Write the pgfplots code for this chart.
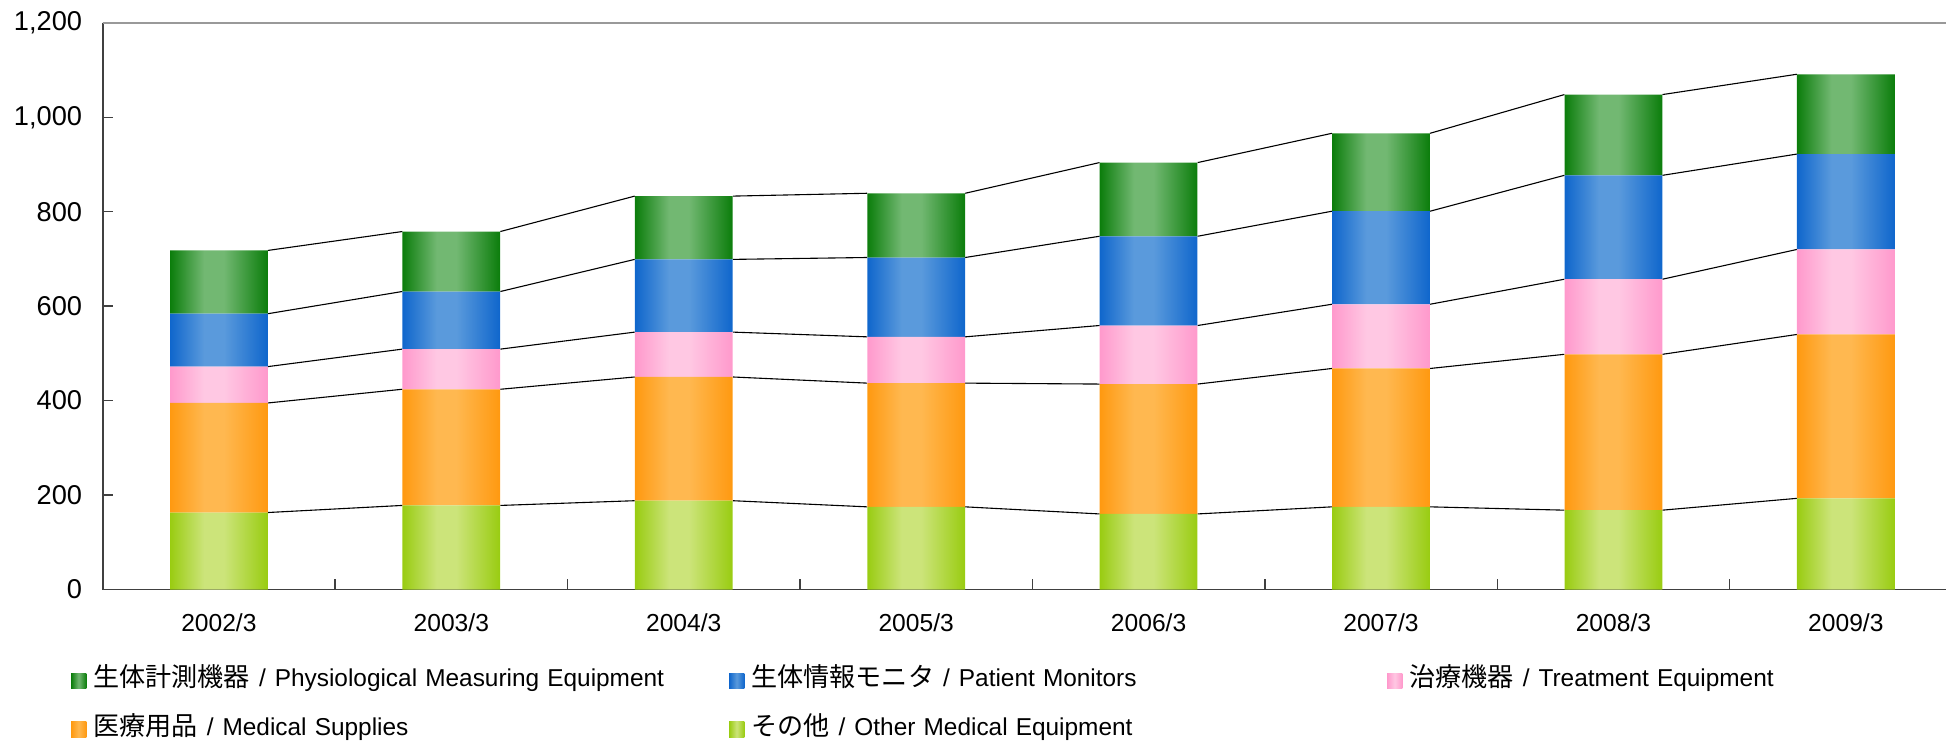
\documentclass[border=0pt]{standalone}
\usepackage{fontspec}
\setmainfont{Liberation Sans}
\newfontfamily\jp{Noto Sans CJK JP}[Scale=1.07]
\usepackage{pgfplots}
\usepackage{pgfplotstable}
\pgfplotsset{compat=1.18}

\definecolor{phD}{HTML}{0B7D0B}\definecolor{phL}{HTML}{72B872}
\definecolor{pmD}{HTML}{0F66CC}\definecolor{pmL}{HTML}{5A9ADC}
\definecolor{trD}{HTML}{FF99CC}\definecolor{trL}{HTML}{FFC8E3}
\definecolor{msD}{HTML}{FF9910}\definecolor{msL}{HTML}{FFB850}
\definecolor{otD}{HTML}{99CC11}\definecolor{otL}{HTML}{CCE47A}

% one series is one path, so the shading repeats once per bar:
% the path's box (8 bars) is mapped onto 25bp..75bp of the shading
\newcommand\barshade[3]{%
 \pgfdeclarehorizontalshading{#1}{100bp}{color(0bp)=(#2); color(25bp)=(#2);
  color(25.99bp)=(#3); color(26.56bp)=(#3); color(27.84bp)=(#2); color(31.74bp)=(#2);
  color(32.73bp)=(#3); color(33.30bp)=(#3); color(34.57bp)=(#2); color(38.48bp)=(#2);
  color(39.47bp)=(#3); color(40.04bp)=(#3); color(41.31bp)=(#2); color(45.21bp)=(#2);
  color(46.21bp)=(#3); color(46.77bp)=(#3); color(48.05bp)=(#2); color(51.95bp)=(#2);
  color(52.94bp)=(#3); color(53.51bp)=(#3); color(54.79bp)=(#2); color(58.69bp)=(#2);
  color(59.68bp)=(#3); color(60.25bp)=(#3); color(61.52bp)=(#2); color(65.43bp)=(#2);
  color(66.42bp)=(#3); color(66.99bp)=(#3); color(68.26bp)=(#2); color(72.16bp)=(#2);
  color(73.16bp)=(#3); color(73.72bp)=(#3); color(75bp)=(#2); color(100bp)=(#2)}}
\barshade{phS}{phD}{phL}
\barshade{pmS}{pmD}{pmL}
\barshade{trS}{trD}{trL}
\barshade{msS}{msD}{msL}
\barshade{otS}{otD}{otL}

% segments per category (fiscal year ending March)
\pgfplotstableread{
x oth sup tre mon phy
0 163 232  77 112 134
1 178 246  85 122 127
2 188 262  95 154 134
3 175 262  98 168 136
4 160 275 124 189 156
5 175 293 136 197 165
6 168 330 159 220 171
7 193 347 180 202 169
}\sales

% running totals, joined from the right edge of one bar to the left edge of the next
\pgfplotstableread{
x     a   b   c   d   e
0.211 163 395 472 584 718
0.789 178 424 509 631 758
0.8   nan nan nan nan nan
1.211 178 424 509 631 758
1.789 188 450 545 699 833
1.8   nan nan nan nan nan
2.211 188 450 545 699 833
2.789 175 437 535 703 839
2.8   nan nan nan nan nan
3.211 175 437 535 703 839
3.789 160 435 559 748 904
3.8   nan nan nan nan nan
4.211 160 435 559 748 904
4.789 175 468 604 801 966
4.8   nan nan nan nan nan
5.211 175 468 604 801 966
5.789 168 498 657 877 1048
5.8   nan nan nan nan nan
6.211 168 498 657 877 1048
6.789 193 540 720 922 1091
}\links

\pgfplotsset{frame/.style={scale only axis, width=921.65bp, height=283.35bp,
  xmin=-0.5, xmax=7.431, ymin=0, ymax=1200,
  at={(51.35bp,78.75bp)}, anchor=south west},
  key/.style n args={2}{legend image code/.code={\path[left color=#1, right color=#1,
    middle color=#2] (0bp,-3.9bp) rectangle (7.65bp,3.9bp);}}}
\newcommand\sep{\hspace{4.5bp}/\hspace{4.5bp}}

\begin{document}
\begin{tikzpicture}
\useasboundingbox (0,0) rectangle (973bp,373.5bp);
\begin{axis}[frame, hide axis, unbounded coords=jump]
\addplot[black, line width=0.55bp, mark=none] table[x=x,y=a]{\links};
\addplot[black, line width=0.55bp, mark=none] table[x=x,y=b]{\links};
\addplot[black, line width=0.55bp, mark=none] table[x=x,y=c]{\links};
\addplot[black, line width=0.55bp, mark=none] table[x=x,y=d]{\links};
\addplot[black, line width=0.55bp, mark=none] table[x=x,y=e]{\links};
\end{axis}
\begin{axis}[frame,
  ybar stacked, bar width=48.9bp,
  axis lines*=left, axis line style={-, black!75, line width=0.9bp},
  tick pos=left, tick align=inside,
  tick style={black!75, line width=0.7bp},
  major tick length=5bp,
  ytick={0,200,...,1200},
  yticklabel style={font=\fontsize{13.6bp}{15bp}\selectfont, xshift=-6.8bp,
    /pgf/number format/1000 sep={,}, /pgf/number format/assume math mode=true},
  xtick={0.5,1.5,...,6.5}, xticklabels={},
  extra x ticks={0,...,7},
  extra x tick labels={2002/3,2003/3,2004/3,2005/3,2006/3,2007/3,2008/3,2009/3},
  extra x tick style={major tick length=0pt},
  xticklabel style={font=\fontsize{12.3bp}{14bp}\selectfont, yshift=-8.6bp},
  legend columns=3, reverse legend, legend cell align=left,
  legend style={at={(axis description cs:-0.01736,-0.14205)}, anchor=north west,
    draw=none, fill=none, inner sep=0pt,
    font=\fontsize{12.2bp}{14bp}\selectfont,
    nodes={inner sep=0pt, text width=250bp, text height=8.3bp, text depth=2.2bp},
    /tikz/row sep=13.75bp,
    /tikz/every odd column/.style={column sep=3.5bp},
    /tikz/every even column/.style={column sep=67.85bp}},
]
\addplot[draw=none, shading=otS, key={otD}{otL}] table[x=x,y=oth]{\sales};
\addlegendentry{\mbox{{\jp その他}\sep Other Medical Equipment}}
\addplot[draw=none, shading=msS, key={msD}{msL}] table[x=x,y=sup]{\sales};
\addlegendentry{\mbox{{\jp 医療用品}\sep Medical Supplies}}
\addplot[draw=none, shading=trS, key={trD}{trL}] table[x=x,y=tre]{\sales};
\addlegendentry{\mbox{{\jp 治療機器}\sep Treatment Equipment}}
\addplot[draw=none, shading=pmS, key={pmD}{pmL}] table[x=x,y=mon]{\sales};
\addlegendentry{\mbox{{\jp 生体情報モニタ}\sep Patient Monitors}}
\addplot[draw=none, shading=phS, key={phD}{phL}] table[x=x,y=phy]{\sales};
\addlegendentry{\mbox{{\jp 生体計測機器}\sep Physiological Measuring Equipment}}
\draw[black!40, line width=1bp] (rel axis cs:0,1) -- (rel axis cs:1,1);
\draw[black!35, line width=0.8bp] (axis description cs:-0.03483,-0.2779)
  -- (axis description cs:-0.03483,-0.1138) -- (axis description cs:1,-0.1138);
\end{axis}
\end{tikzpicture}
\end{document}
